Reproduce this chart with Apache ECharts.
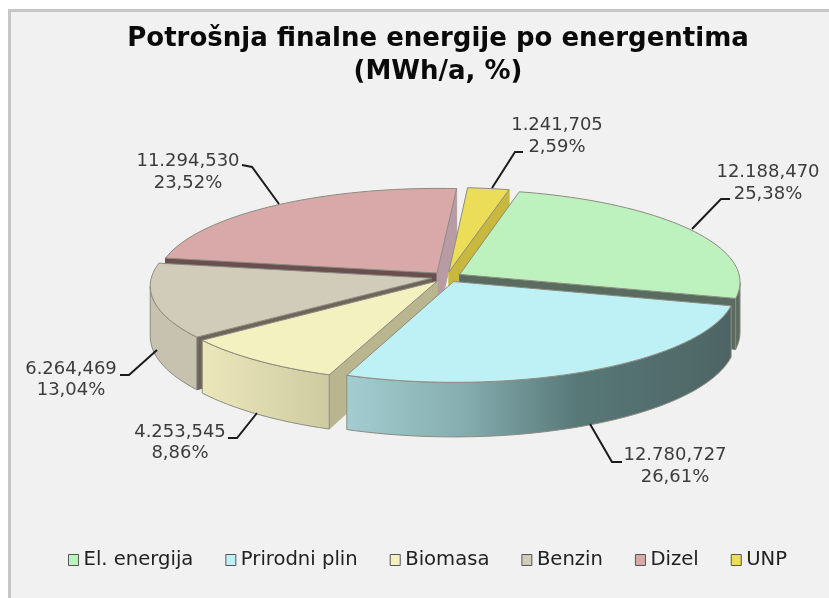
<!DOCTYPE html>
<html>
<head>
<meta charset="utf-8">
<style>html,body{margin:0;padding:0;background:#fff}#c{width:829px;height:598px;filter:blur(0.5px)}</style>
<script src="https://cdn.jsdelivr.net/npm/echarts@6/dist/echarts.min.js"></script>
</head>
<body>
<div id="c"></div>
<script>
const categories = ['El. energija', 'Prirodni plin', 'Biomasa', 'Benzin', 'Dizel', 'UNP'];
const values = [12188.470, 12780.727, 4253.545, 6264.469, 11294.530, 1241.705];

// ---- styling and layout, separate from the data ----
const topColors  = ['#bdf1bd', '#bef1f5', '#f4f1c1', '#d1ccb9', '#d9a9a9', '#ebdd58'];
const faceColors = ['#5a6c5f', '#5a7272', '#b9b58e', '#6d655c', '#6a4f50', '#c8b83e'];
const endColors  = ['#5a6c5f', '#5a7272', '#b9b58e', '#6d655c', '#b99ca3', '#c8b83e'];
const wallFills = [
  '#5a6c60',
  {type:'linear',x:0,y:0,x2:1,y2:0,colorStops:[{offset:0,color:'#a3cdd1'},{offset:.3,color:'#86aeb0'},{offset:.6,color:'#587878'},{offset:1,color:'#4e6464'}]},
  {type:'linear',x:0,y:0,x2:1,y2:0,colorStops:[{offset:0,color:'#ebe7bb'},{offset:1,color:'#cfcba0'}]},
  '#c7c1af', '#b99ca3', '#c8b83e'
];
const zOrder = [3, 6, 5, 4, 1, 2];
const pie = {cx:446.5, cy:277, R:280, Ry:92, k:.08, depth:50, explode:.055, start:13.5};
const leaders = [
  {lx:768, ly:[172,194], pts:[[730,199],[721,199],[692,229]]},
  {lx:675, ly:[455,477], pts:[[622,462],[612,462],[590,424]]},
  {lx:180, ly:[432,453], pts:[[228,438],[237,438],[257,413]]},
  {lx:71,  ly:[369,390], pts:[[120,375],[129,375],[157,350]]},
  {lx:188, ly:[161,183], pts:[[242,165],[252,167],[279,204]]},
  {lx:557, ly:[125,147], pts:[[523,152],[515,152],[492,188]]}
];
const total = values.reduce((a, b) => a + b, 0);
const fmtValue = v => {
  const [i, d] = v.toFixed(3).split('.');
  return i.replace(/\B(?=(\d{3})+$)/g, '.') + ',' + d;
};
const fmtPct = v => (v / total * 100).toFixed(2).replace('.', ',') + '%';

function angles(i) {
  let a = pie.start;
  for (let j = 0; j < i; j++) a += values[j] / total * 360;
  return [a, a + values[i] / total * 360];
}
function rad(d) { return d * Math.PI / 180; }

function renderSlice(i, api) {
  const v = api.value(0);
  const [a0, a1] = angles(i);
  const mid = rad((a0 + a1) / 2);
  const ox = Math.sin(mid) * pie.explode, oy = -Math.cos(mid) * pie.explode;
  const proj = (u, w, h) => {
    const s = 1 / (1 - pie.k * w);
    return [pie.cx + pie.R * u * s, pie.cy + pie.Ry * w * s + h * pie.depth * s];
  };
  const rim = (deg, h) => proj(ox + Math.sin(rad(deg)), oy - Math.cos(rad(deg)), h);
  const apex = h => proj(ox, oy, h);
  const arc = (from, to, h) => {
    const n = Math.max(2, Math.ceil((to - from) / 2)), out = [];
    for (let t = 0; t <= n; t++) out.push(rim(from + (to - from) * t / n, h));
    return out;
  };
  // silhouette angles: where the projected rim reaches its right and left extremes
  let aR = 90, aL = 270;
  for (let d = 40; d <= 140; d += .5) if (rim(d, 0)[0] > rim(aR, 0)[0]) aR = d;
  for (let d = 220; d <= 320; d += .5) if (rim(d, 0)[0] < rim(aL, 0)[0]) aL = d;
  const z = zOrder[i] * 10;
  const line = '#8c8c80';
  const kids = [];
  const poly = (points, fill, zz, stroke) => kids.push({
    type: 'polygon', z2: z + zz, shape: {points},
    style: {fill, stroke: stroke || fill, lineWidth: 1}
  });
  // radial cut faces, only those turned towards the viewer
  if (-Math.cos(rad(a0 - 90)) > 0) poly([apex(0), rim(a0, 0), rim(a0, 1), apex(1)], faceColors[i], 0);
  if (-Math.cos(rad(a1 + 90)) > 0) poly([apex(0), rim(a1, 0), rim(a1, 1), apex(1)], endColors[i], 1);
  // outer wall: the visible front of the rim, silhouette to silhouette
  const w0 = Math.max(a0, aR), w1 = Math.min(a1, aL);
  if (w1 > w0) {
    poly(arc(w0, w1, 0).concat(arc(w0, w1, 1).reverse()), wallFills[i], 2, line);
  }
  // top face
  poly([apex(0)].concat(arc(a0, a1, 0)), topColors[i], 3, line);

  // label + leader
  const L = leaders[i];
  kids.push({type:'polyline', z2: 100, shape:{points:L.pts}, style:{fill:'none', stroke:'#1c1c1c', lineWidth:2}});
  [fmtValue(v), fmtPct(v)].forEach((t, k) => kids.push({
    type:'text', z2:100, style:{x:L.lx, y:L.ly[k], text:t, fill:'#3c3c3c',
      font:'18px "DejaVu Sans"', align:'center', verticalAlign:'middle'}
  }));
  return {type:'group', children:kids};
}

const chart = echarts.init(document.getElementById('c'), null, {renderer:'canvas'});
chart.setOption({
  animation:false,
  backgroundColor:'#ffffff',
  graphic:[{type:'rect', z:-10, shape:{x:9.5,y:10.5,width:840,height:600},
    style:{fill:'#f1f1f1', stroke:'#c6c6c6', lineWidth:3}}],
  title:{text:'Potrošnja finalne energije po energentima\n(MWh/a, %)', left:433, top:18, textAlign:'center',
    textStyle:{fontFamily:'DejaVu Sans', fontWeight:'bold', fontSize:26, lineHeight:33, color:'#0a0a0a'}},
  legend:{left:68, top:550, icon:'rect', itemWidth:10, itemHeight:11, itemGap:32, padding:0,
    data:categories,
    itemStyle:{borderColor:'#555', borderWidth:1},
    textStyle:{fontFamily:'DejaVu Sans', fontSize:19.6, color:'#222'}},
  series:categories.map((name, i) => ({
    type:'custom', name, coordinateSystem:'none', silent:true,
    itemStyle:{color:topColors[i]},
    data:[[values[i]]],
    renderItem:(p, api) => renderSlice(i, api)
  }))
});
</script>
</body>
</html>
